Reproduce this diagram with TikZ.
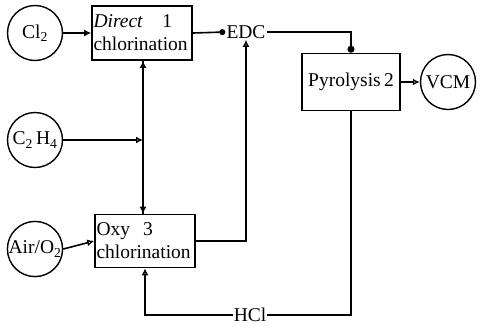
\documentclass[tikz,border=0pt]{standalone}
\usepackage{fontspec}
\setmainfont{Liberation Serif}
\usetikzlibrary{arrows.meta}
\tikzset{
  circ/.style={draw, circle, minimum size=55pt, inner sep=0pt, line width=1.4pt},
  pbox/.style={draw, rectangle, inner sep=1pt, line width=1.6pt, align=left},
  flow/.style={line width=1.6pt},
  oarr/.style={-{Latex[open,length=7pt,width=7pt]}},
}
\begin{document}
\begin{tikzpicture}[x=1pt,y=-1pt,font=\fontsize{19.5}{23}\selectfont]
\useasboundingbox (0,0) rectangle (500,325);
\node[circ] (cl2) at (35,33) {Cl\textsubscript{2}};
\node[circ] (c2h4) at (35,140) {C\textsubscript{2}\,H\textsubscript{4}};
\node[circ] (air) at (35,249) {Air/O\textsubscript{2}};
\node[circ] (vcm) at (448,82) {VCM};
\node[pbox, minimum width=100pt, minimum height=54pt, text width=97pt] (direct) at (142,33) {\textit{Direct}\ \ \ 1\\chlorination};
\node[pbox, minimum width=100pt, minimum height=53pt, text width=97pt] (oxy) at (145,241) {Oxy\ \ 3\\chlorination};
\node[pbox, minimum width=98pt, minimum height=57pt] (pyro) at (351,82) {Pyrolysis\,2};
\node[inner sep=1pt] (edc) at (246,32) {EDC};
\node[inner sep=1pt] (hcl) at (250,315) {HCl};
\draw[flow, -{Latex[length=7pt,width=7pt]}] (cl2.east) -- (direct.west);
\draw[flow, -{Circle[length=6pt]}] (direct.east) -- (edc.west);
\draw[flow, -{Circle[length=7pt]}] (edc.east) -| (pyro.north);
\draw[flow, oarr] (pyro.east) -- (vcm.west);
\draw[flow, oarr] (oxy.east) -| (edc.south);
\draw[flow, oarr] ([xshift=1pt]direct.south) -- ([xshift=1pt]direct.south |- oxy.north);
\draw[flow, oarr] ([xshift=1pt]direct.south |- oxy.north) -- ([xshift=1pt]direct.south);
\draw[flow, oarr] (c2h4.east) -- ([xshift=1pt]direct.south |- c2h4.east);
\draw[flow, oarr] (air.east) -- (oxy.west);
\draw[flow] (pyro.south) |- (hcl.east);
\draw[flow, oarr] (hcl.west) -| (oxy.south);
\end{tikzpicture}
\end{document}
